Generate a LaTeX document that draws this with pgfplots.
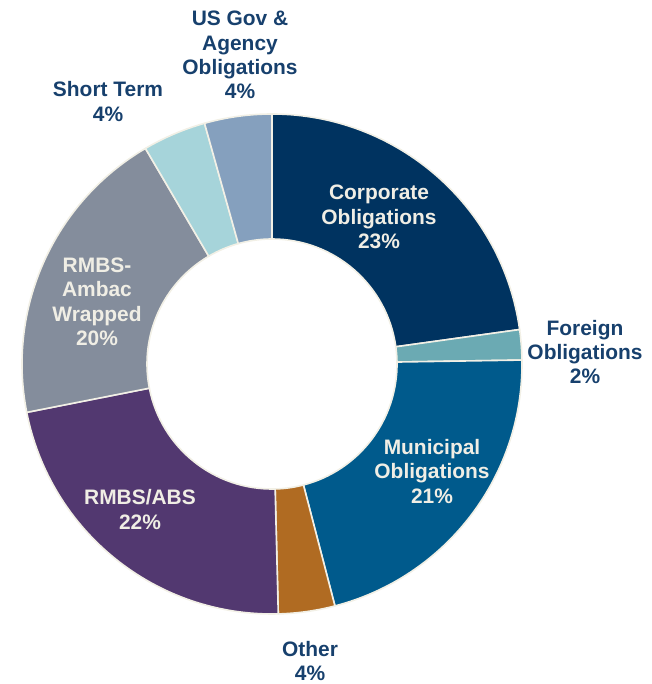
\documentclass[border=0pt]{standalone}
\usepackage{pgfplots}
\usepackage{pgfplotstable}
\pgfplotsset{compat=1.18}
\usepackage{fontspec}
\setmainfont{Liberation Sans}
\definecolor{corp}{HTML}{003360}
\definecolor{foreign}{HTML}{6BAAB3}
\definecolor{muni}{HTML}{005A8C}
\definecolor{other}{HTML}{B06B22}
\definecolor{rmbs}{HTML}{523870}
\definecolor{ambac}{HTML}{848D9C}
\definecolor{short}{HTML}{A6D4DA}
\definecolor{usgov}{HTML}{85A0BE}
\definecolor{sep}{HTML}{F2F0E6}
\definecolor{lab}{HTML}{17406D}
\definecolor{inlab}{HTML}{F0EEE5}
% share of the ring (per cent), clockwise from 12 o'clock
\pgfplotstableread{
value col
22.8 corp
1.95 foreign
21.2 muni
3.65 other
22.3 rmbs
19.65 ambac
4.1 short
4.35 usgov
}\slices
\begin{document}
\begin{tikzpicture}
\begin{axis}[hide axis, x=1bp, y=1bp, xmin=0, xmax=652, ymin=0, ymax=684,
  clip=false, scale only axis]
\pgfplotsextra{
  \path (axis cs:0,0) rectangle (axis cs:652,684);
  \coordinate (C) at (axis cs:272,320);
  \def\cum{90}
  \pgfplotsforeachungrouped \i in {0,...,7}{%
    \pgfplotstablegetelem{\i}{value}\of\slices \let\v\pgfplotsretval
    \pgfplotstablegetelem{\i}{col}\of\slices \let\c\pgfplotsretval
    \pgfmathsetmacro\e{\cum-3.6*\v}%
    \fill[fill=\c, draw=sep, line width=1.6bp, line join=round]
      ([shift={(\cum:250bp)}]C) arc[start angle=\cum, end angle=\e, radius=250bp]
      -- ([shift={(\e:125bp)}]C) arc[start angle=\e, end angle=\cum, radius=125bp]
      -- cycle;
    \global\let\cum\e
  }
}
\tikzset{lbl/.style={align=center, inner sep=0pt, font=\fontsize{21}{24.5}\selectfont\bfseries}}
\node[lbl, text=lab] at (axis cs:240,629) {US Gov \&\\Agency\\Obligations\\4\%};
\node[lbl, text=lab] at (axis cs:108,582.5) {Short Term\\4\%};
\node[lbl, text=inlab] at (axis cs:379,467) {Corporate\\Obligations\\23\%};
\node[lbl, text=lab] at (axis cs:585,332) {Foreign\\Obligations\\2\%};
\node[lbl, text=inlab] at (axis cs:432,212.5) {Municipal\\Obligations\\21\%};
\node[lbl, text=lab] at (axis cs:310,23) {Other\\4\%};
\node[lbl, text=inlab] at (axis cs:140,174.5) {RMBS/ABS\\22\%};
\node[lbl, text=inlab] at (axis cs:97,382) {RMBS-\\Ambac\\Wrapped\\20\%};
\end{axis}
\end{tikzpicture}
\end{document}
